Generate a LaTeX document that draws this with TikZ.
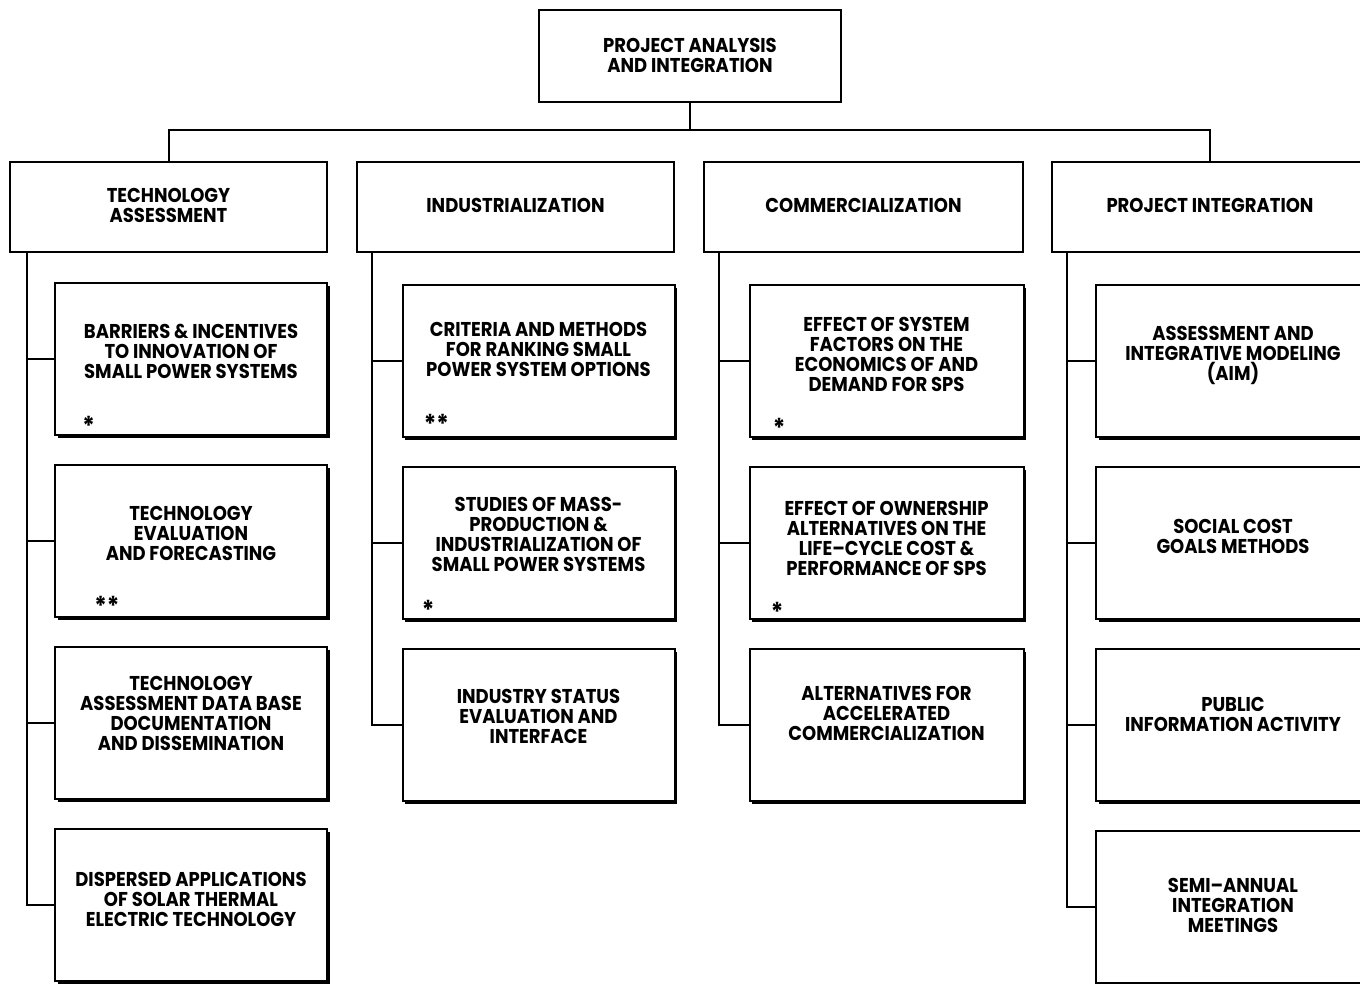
\documentclass[tikz,border=0pt]{standalone}
\usepackage{fontspec}
\setmainfont{Poppins}[FakeStretch=0.9]
\usepackage{tikz}
\usetikzlibrary{positioning,shadows}

\tikzset{
  topbox/.style={draw,line width=1pt,fill=white,align=center,
        font=\fontsize{10}{10}\selectfont\bfseries,inner sep=2pt},
  subbox/.style={topbox,minimum width=136pt,minimum height=76pt,
        drop shadow={shadow xshift=1.4pt,shadow yshift=-1.4pt,opacity=1,fill=black}},
  astx/.style={font=\fontsize{13}{13}\selectfont\bfseries,inner sep=0pt,anchor=west},
  link/.style={line width=1pt},
}

\begin{document}
\begin{tikzpicture}[x=0.5pt,y=-0.5pt]
  \useasboundingbox (0,0) rectangle (1360,984);

  % top of the tree
  \node[topbox,minimum width=151pt,minimum height=46pt] (pai) at (690,56)
    {PROJECT ANALYSIS\\AND INTEGRATION\\[-9pt]};
  \coordinate (bus) at (690,130);

  % the four branches
  \node[topbox,minimum width=158.5pt,minimum height=45pt] (ta) at (168.5,207)
    {TECHNOLOGY\\ASSESSMENT\\[-8pt]};
  \node[topbox,minimum width=158.5pt,minimum height=45pt] (ind) at (515.5,207)
    {INDUSTRIALIZATION\\[-8pt]};
  \node[topbox,minimum width=159.5pt,minimum height=45pt] (com) at (863.5,207)
    {COMMERCIALIZATION\\[-8pt]};
  \node[topbox,minimum width=158pt,minimum height=45pt] (pin) at (1210,207)
    {PROJECT INTEGRATION\\[-8pt]};

  \draw[link] (pai.south) -- (bus);
  \draw[link] (ta.north) |- (bus) -| (pin.north);

  % technology assessment
  \node[subbox] (ta1) at (191,359)
    {BARRIERS \& INCENTIVES\\TO INNOVATION OF\\SMALL POWER SYSTEMS\\[-2pt]};
  \node[subbox,below=14pt of ta1] (ta2)
    {TECHNOLOGY\\EVALUATION\\AND FORECASTING\\[-2pt]};
  \node[subbox,below=14pt of ta2] (ta3)
    {TECHNOLOGY\\ASSESSMENT DATA BASE\\DOCUMENTATION\\AND DISSEMINATION\\[0pt]};
  \node[subbox,below=14pt of ta3] (ta4)
    {DISPERSED APPLICATIONS\\OF SOLAR THERMAL\\ELECTRIC TECHNOLOGY\\[-4pt]};
  \node[astx] (ta1s) at ([xshift=14pt,yshift=5pt]ta1.south west) {*};
  \node[astx] (ta2s) at ([xshift=20pt,yshift=6pt]ta2.south west) {**};

  \coordinate (tat) at (27,252);
  \draw[link] (tat) |- (ta4.west);
  \foreach \n in {ta1,ta2,ta3}
    \draw[link] (tat |- \n.west) -- (\n.west);

  % industrialization
  \node[subbox] (ind1) at (538.5,361)
    {CRITERIA AND METHODS\\FOR RANKING SMALL\\POWER SYSTEM OPTIONS\\[2pt]};
  \node[subbox,below=14pt of ind1] (ind2)
    {STUDIES OF MASS-\\PRODUCTION \&\\INDUSTRIALIZATION OF\\SMALL POWER SYSTEMS\\[-1pt]};
  \node[subbox,below=14pt of ind2] (ind3)
    {INDUSTRY STATUS\\EVALUATION AND\\INTERFACE\\[-1pt]};
  \node[astx] (ind1s) at ([xshift=11pt,yshift=7pt]ind1.south west) {**};
  \node[astx] (ind2s) at ([xshift=10pt,yshift=5pt]ind2.south west) {*};

  \coordinate (indt) at (372,252);
  \draw[link] (indt) |- (ind3.west);
  \foreach \n in {ind1,ind2}
    \draw[link] (indt |- \n.west) -- (\n.west);

  % commercialization
  \node[subbox,minimum width=137pt] (com1) at (886.5,361)
    {EFFECT OF SYSTEM\\FACTORS ON THE\\ECONOMICS OF AND\\DEMAND FOR SPS\\[-3pt]};
  \node[subbox,minimum width=137pt,below=14pt of com1] (com2)
    {EFFECT OF OWNERSHIP\\ALTERNATIVES ON THE\\LIFE--CYCLE COST \&\\PERFORMANCE OF SPS\\[-5pt]};
  \node[subbox,minimum width=137pt,below=14pt of com2] (com3)
    {ALTERNATIVES FOR\\ACCELERATED\\COMMERCIALIZATION\\[2pt]};
  \node[astx] (com1s) at ([xshift=12pt,yshift=5pt]com1.south west) {*};
  \node[astx] (com2s) at ([xshift=11pt,yshift=4pt]com2.south west) {*};

  \coordinate (comt) at (719,252);
  \draw[link] (comt) |- (com3.west);
  \foreach \n in {com1,com2}
    \draw[link] (comt |- \n.west) -- (\n.west);

  % project integration
  \node[subbox,minimum width=137pt] (pin1) at (1233,361)
    {ASSESSMENT AND\\INTEGRATIVE MODELING\\(AIM)\\[-2pt]};
  \node[subbox,minimum width=137pt,below=14pt of pin1] (pin2)
    {SOCIAL COST\\GOALS METHODS\\[-3pt]};
  \node[subbox,minimum width=137pt,below=14pt of pin2] (pin3)
    {PUBLIC\\INFORMATION ACTIVITY\\[1pt]};
  \node[subbox,minimum width=137pt,below=14pt of pin3] (pin4)
    {SEMI--ANNUAL\\INTEGRATION\\MEETINGS\\[-8pt]};

  \coordinate (pint) at (1067,252);
  \draw[link] (pint) |- (pin4.west);
  \foreach \n in {pin1,pin2,pin3}
    \draw[link] (pint |- \n.west) -- (\n.west);
\end{tikzpicture}
\end{document}
